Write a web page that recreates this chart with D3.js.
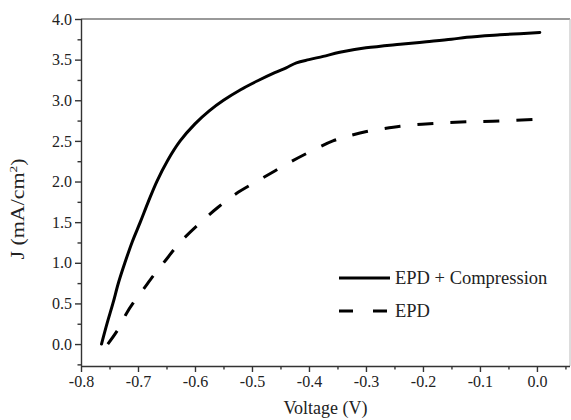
<!DOCTYPE html>
<html>
<head>
<meta charset="utf-8">
<script src="https://cdn.jsdelivr.net/npm/d3@7"></script>
<style>
	body { margin: 0; background: #fff; }
	svg text { fill: #222; }
</style>
</head>
<body>
<svg id="chart" width="571" height="420"></svg>
<script>
/* Data */
const compVoltage = [-0.764, -0.754, -0.744, -0.734, -0.723, -0.710, -0.696, -0.682, -0.667, -0.648, -0.626, -0.600, -0.575, -0.550, -0.520, -0.490, -0.460, -0.440, -0.422, -0.400, -0.375, -0.346, -0.300, -0.240, -0.194, -0.150, -0.123, -0.065, -0.030, 0.005];
const compCurrent = [0.00, 0.26, 0.50, 0.76, 1.00, 1.26, 1.50, 1.75, 2.00, 2.26, 2.50, 2.71, 2.87, 3.00, 3.13, 3.24, 3.34, 3.40, 3.46, 3.50, 3.54, 3.59, 3.645, 3.69, 3.72, 3.75, 3.775, 3.805, 3.82, 3.835];

const epdVoltage = [-0.753, -0.735, -0.720, -0.709, -0.690, -0.672, -0.655, -0.625, -0.588, -0.560, -0.528, -0.492, -0.460, -0.430, -0.400, -0.358, -0.330, -0.299, -0.270, -0.240, -0.182, -0.123, -0.065, -0.005];
const epdCurrent = [0.00, 0.18, 0.38, 0.50, 0.68, 0.85, 1.00, 1.26, 1.51, 1.68, 1.85, 2.00, 2.13, 2.25, 2.36, 2.50, 2.56, 2.615, 2.65, 2.68, 2.715, 2.735, 2.745, 2.765];

const xTicks = [-0.8, -0.7, -0.6, -0.5, -0.4, -0.3, -0.2, -0.1, 0.0];
const yTicks = [0.0, 0.5, 1.0, 1.5, 2.0, 2.5, 3.0, 3.5, 4.0];
const seriesNames = ['EPD + Compression', 'EPD'];

const FONT = '"Liberation Serif", Tinos, "Times New Roman", "DejaVu Serif", serif';

const svg = d3.select('#chart');
const mLeft = 81, mRight = 570, mTop = 19, mBottom = 366;

const x = d3.scaleLinear().domain([-0.8, 0.058]).range([mLeft, mRight]);
const y = d3.scaleLinear().domain([-0.27, 4.0]).range([mBottom, mTop]);

// plain hyphen, not the unicode minus
const fmt = d => d3.format('.1f')(d).replace('\u2212', '-');

// frame (top + right are lighter)
svg.append('line').attr('x1', mLeft).attr('x2', mRight).attr('y1', mTop).attr('y2', mTop)
	.attr('stroke', '#777').attr('stroke-width', 1.5);
svg.append('line').attr('x1', mRight).attr('x2', mRight).attr('y1', mTop).attr('y2', mBottom)
	.attr('stroke', '#bbb').attr('stroke-width', 1);

// minor ticks
const xMinor = d3.range(-0.75, 0.06, 0.1);
const yMinor = d3.range(-0.25, 4.0, 0.5);

const xAxis = d3.axisBottom(x).tickValues(xTicks).tickFormat(fmt).tickSizeOuter(0).tickSize(6).tickPadding(4);
const yAxis = d3.axisLeft(y).tickValues(yTicks).tickFormat(fmt).tickSizeOuter(0).tickSize(6).tickPadding(3);

const gx = svg.append('g').attr('transform', `translate(0,${mBottom})`).call(xAxis);
const gy = svg.append('g').attr('transform', `translate(${mLeft},0)`).call(yAxis);

svg.append('g').attr('transform', `translate(0,${mBottom})`)
	.call(d3.axisBottom(x).tickValues(xMinor).tickFormat('').tickSize(3.5).tickSizeOuter(0))
	.select('.domain').remove();
svg.append('g').attr('transform', `translate(${mLeft},0)`)
	.call(d3.axisLeft(y).tickValues(yMinor).tickFormat('').tickSize(3.5).tickSizeOuter(0))
	.select('.domain').remove();

svg.selectAll('g').attr('font-family', FONT);
svg.selectAll('.domain, .tick line').attr('stroke', '#333').attr('stroke-width', 1.4);
gx.select('.domain').attr('d', `M${mLeft},0.5H${mRight}`);
gy.select('.domain').attr('d', `M0.5,${mTop}V${mBottom}`);
svg.selectAll('.tick text').attr('font-size', 16).attr('fill', '#222');

// axis titles
svg.append('text').attr('x', (mLeft + mRight) / 2).attr('y', 414)
	.attr('font-family', FONT).attr('text-anchor', 'middle').attr('font-size', 18).text('Voltage (V)');

// the y title is drawn a bit stretched along its length in the original
const yl = svg.append('text').attr('transform', 'translate(24,209) rotate(-90) scale(1.22,1)')
	.attr('font-family', FONT).attr('text-anchor', 'middle').attr('font-size', 18);
yl.append('tspan').text('J (mA/cm');
yl.append('tspan').attr('font-size', 11).attr('dy', -7).text('2');
yl.append('tspan').attr('dy', 7).text(')');

// curves
const line = d3.line().x(d => x(d[0])).y(d => y(d[1])).curve(d3.curveCatmullRom.alpha(0.5));
const compData = compVoltage.map((v, i) => [v, compCurrent[i]]);
const epdData = epdVoltage.map((v, i) => [v, epdCurrent[i]]);

svg.append('path').datum(compData).attr('d', line)
	.attr('fill', 'none').attr('stroke', '#000').attr('stroke-width', 3).attr('stroke-linecap', 'round');
svg.append('path').datum(epdData).attr('d', line)
	.attr('fill', 'none').attr('stroke', '#000').attr('stroke-width', 3)
	.attr('stroke-dasharray', '16,17');

// legend
const legend = svg.append('g').attr('font-family', FONT);
seriesNames.forEach((name, i) => {
	const ly = 278 + i * 33;
	legend.append('line').attr('x1', 339).attr('x2', i ? 387 : 390).attr('y1', ly).attr('y2', ly)
		.attr('stroke', '#000').attr('stroke-width', 3)
		.attr('stroke-dasharray', i ? '14,20' : null);
	legend.append('text').attr('x', 395).attr('y', ly + 6).attr('font-size', 18.5).text(name);
});
</script>
</body>
</html>
